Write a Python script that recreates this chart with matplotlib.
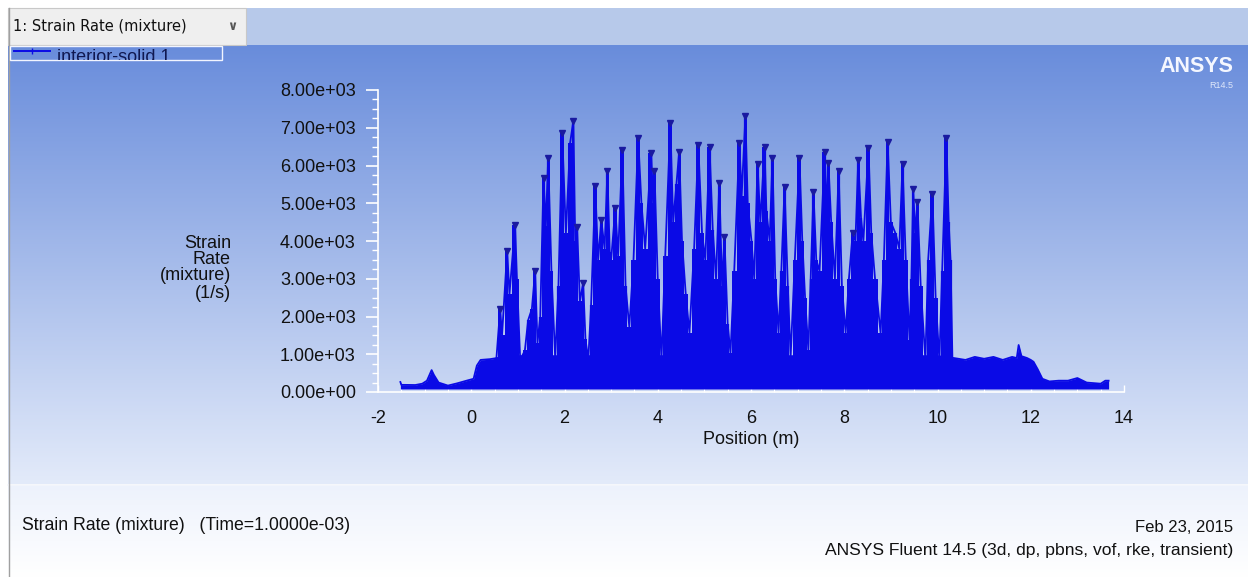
import numpy as np
import matplotlib
matplotlib.use("Agg")
import matplotlib.pyplot as plt
from matplotlib.patches import Rectangle
from matplotlib.ticker import MultipleLocator

# ---------------- data ----------------
# dense low-level band (upper envelope), position in m, strain rate in 1/s
band_pos = [-1.52, -1.50, -1.20, -1.05, -0.95, -0.85, -0.80, -0.70, -0.50, -0.30,
            -0.10, 0.05, 0.12, 0.20, 0.40, 0.55, 1.00, 2.00, 3.00, 4.00, 5.00,
            6.00, 7.00, 8.00, 9.00, 10.00, 10.35, 10.60, 10.80, 11.00, 11.20,
            11.40, 11.60, 11.70, 11.74, 11.80, 11.92, 12.00, 12.06, 12.15, 12.25,
            12.40, 12.60, 12.80, 13.00, 13.20, 13.50, 13.60, 13.67]
band_top = [265, 190, 185, 220, 300, 580, 450, 250, 170, 230,
            300, 350, 700, 850, 870, 900, 950, 950, 950, 950, 950,
            950, 950, 950, 950, 950, 900, 850, 930, 880, 930,
            850, 930, 900, 1245, 950, 900, 850, 800, 600, 350,
            280, 300, 300, 370, 250, 220, 300, 300]
band_floor = 80

# spikes of the main region (vertices of the trace)
spike_pos = [0.54, 0.62, 0.66, 0.77, 0.82, 0.94, 0.98, 1.05, 1.15, 1.22, 1.30, 1.37,
             1.42, 1.48, 1.55, 1.60, 1.65, 1.72, 1.80, 1.87, 1.95, 2.03, 2.12, 2.19,
             2.23, 2.27, 2.33, 2.40, 2.45, 2.51, 2.57, 2.66, 2.72, 2.79, 2.86, 2.92,
             2.97, 3.00, 3.09, 3.15, 3.24, 3.31, 3.39, 3.48, 3.58, 3.65, 3.73, 3.86,
             3.90, 3.93, 4.00, 4.08, 4.16, 4.27, 4.33, 4.40, 4.46, 4.52, 4.60, 4.68,
             4.78, 4.87, 4.95, 5.02, 5.11, 5.18, 5.25, 5.32, 5.38, 5.43, 5.50, 5.56,
             5.64, 5.75, 5.80, 5.88, 5.93, 6.01, 6.07, 6.14, 6.20, 6.29, 6.33, 6.40,
             6.46, 6.52, 6.59, 6.65, 6.72, 6.79, 6.85, 6.94, 7.04, 7.10, 7.16, 7.23,
             7.28, 7.34, 7.40, 7.47, 7.58, 7.62, 7.66, 7.72, 7.80, 7.88, 7.95, 8.03,
             8.10, 8.18, 8.24, 8.30, 8.36, 8.41, 8.52, 8.58, 8.66, 8.78, 8.85, 8.93,
             9.00, 9.10, 9.18, 9.25, 9.32, 9.40, 9.44, 9.48, 9.52, 9.57, 9.64, 9.74,
             9.80, 9.89, 9.96, 10.04, 10.10, 10.19, 10.24, 10.28, 10.32]
spike_val = [900, 2200, 1500, 3735, 2600, 4420, 3000, 850, 1100, 1900, 2200, 3200,
             1300, 2000, 5670, 4400, 6200, 3200, 900, 2800, 6860, 4200, 6600, 7180,
             4000, 4370, 2400, 2890, 1400, 850, 2300, 5460, 3500, 4550, 3800, 5850,
             3700, 3500, 4870, 3600, 6410, 2800, 1720, 3500, 6730, 5000, 3800, 6330,
             5000, 5850, 3000, 850, 3600, 7120, 4500, 5500, 6360, 4000, 2600, 1560,
             3800, 6540, 4200, 3500, 6490, 4300, 3000, 5540, 2800, 4110, 1800, 1030,
             3200, 6600, 5200, 7310, 5000, 4000, 3000, 6040, 4500, 6490, 4800, 4000,
             6200, 3000, 1560, 3200, 5430, 2800, 930, 3500, 6200, 4000, 2500, 1110,
             3000, 5300, 3500, 3200, 6360, 4800, 6070, 4500, 3000, 5850, 2800, 1560,
             3000, 4200, 4000, 6150, 4600, 4000, 6460, 4200, 3000, 1560, 3500, 6620,
             4500, 4200, 3800, 6040, 3500, 1380, 3000, 5380, 4200, 5030, 2800, 850,
             3500, 5250, 2500, 850, 3200, 6730, 4500, 3500, 850]

y_ticks = [0, 1000, 2000, 3000, 4000, 5000, 6000, 7000, 8000]
y_tick_labels = ["0.00e+00", "1.00e+03", "2.00e+03", "3.00e+03", "4.00e+03",
                 "5.00e+03", "6.00e+03", "7.00e+03", "8.00e+03"]
x_ticks = [-2, 0, 2, 4, 6, 8, 10, 12, 14]

# ---------------- figure ----------------
W, H = 1248, 577
fig = plt.figure(figsize=(W / 100, H / 100), dpi=100)
fig.patch.set_facecolor("white")

FONT = "Liberation Sans"
UI = "DejaVu Sans"

bg = fig.add_axes([0, 0, 1, 1])
bg.set_xlim(0, W)
bg.set_ylim(H, 0)
bg.axis("off")

# plot panel gradient
top_c = np.array([0.41, 0.55, 0.86])
bot_c = np.array([0.89, 0.92, 0.98])
t = np.linspace(0, 1, 256)[:, None]
grad = top_c[None, :] * (1 - t) + bot_c[None, :] * t
bg.imshow(grad[:, None, :], extent=[8, W, 484, 45], aspect="auto", zorder=0)

# top strip
bg.add_patch(Rectangle((8, 8), W - 8, 37, facecolor="#b7c9ea", edgecolor="none", zorder=1))
bg.add_patch(Rectangle((8, 8), 238, 37, facecolor="#efefef", edgecolor="#c8c8c8", lw=0.8, zorder=2))
bg.text(13, 26, "1: Strain Rate (mixture)", fontsize=10.5, family=UI, color="#111111",
        va="center", ha="left", zorder=3)
bg.text(232, 27, "\u2228", fontsize=9, family=UI, color="#555555", va="center",
        ha="center", zorder=3, fontweight="bold")

# bottom panel gradient
t2 = np.linspace(0, 1, 128)[:, None]
c1 = np.array([0.93, 0.95, 0.99])
c2 = np.array([1.0, 1.0, 1.0])
grad2 = c1[None, :] * (1 - t2) + c2[None, :] * t2
bg.imshow(grad2[:, None, :], extent=[8, W, H, 485], aspect="auto", zorder=0)
bg.plot([8, W], [484.5, 484.5], color="#f4f6fb", lw=1.2, zorder=1)
bg.plot([8.5, 8.5], [8, H], color="#a0a0a0", lw=1.0, zorder=4)

# legend
bg.add_patch(Rectangle((10, 46), 212, 14, facecolor="none", edgecolor="#f2f5ff", lw=1.0, zorder=5))
bg.plot([14, 50], [51, 51], color="#0a0ae6", lw=1.4, zorder=5)
bg.plot([32], [51], marker="|", color="#0a0ae6", ms=5, zorder=5)
clip = Rectangle((10, 45), 212, 15, transform=bg.transData)
leg_t = bg.text(57, 57, "interior-solid 1", fontsize=13, family=FONT, color="#101850",
                va="center", ha="left", zorder=5, clip_on=True)
leg_t.set_clip_path(clip)

# ANSYS logo
bg.text(1233, 67, "ANSYS", fontsize=15.5, family=FONT, fontweight="bold", color="#f4f7ff",
        ha="right", va="center", zorder=5)
bg.text(1233, 86, "R14.5", fontsize=6.5, family=FONT, color="#dfe7fa", ha="right",
        va="center", zorder=5)

# y-label
for txt, yy in zip(["Strain", "Rate", "(mixture)", "(1/s)"], [243, 259, 276, 293]):
    bg.text(231, yy, txt, fontsize=13, family=FONT, color="#111111", ha="right",
            va="center", zorder=5)

# bottom texts
bg.text(22, 525, "Strain Rate (mixture)   (Time=1.0000e-03)", fontsize=12.7, family=FONT,
        color="#111111", ha="left", va="center", zorder=5)
bg.text(1233, 527, "Feb 23, 2015", fontsize=12, family=FONT, color="#111111",
        ha="right", va="center", zorder=5)
bg.text(1233, 551, "ANSYS Fluent 14.5 (3d, dp, pbns, vof, rke, transient)", fontsize=12.6,
        family=FONT, color="#111111", ha="right", va="center", zorder=5)

# ---------------- main axes ----------------
x0, x1, y0, y1 = 378, 1124, 90, 392
ax = fig.add_axes([x0 / W, 1 - y1 / H, (x1 - x0) / W, (y1 - y0) / H])
ax.set_facecolor("none")
ax.set_xlim(-2, 14)
ax.set_ylim(0, 8000)

blue = "#0a0ae6"
ax.fill_between(band_pos, band_floor, band_top, color=blue, lw=0, zorder=2)
ax.fill_between(spike_pos, band_floor, spike_val, color=blue, lw=0, zorder=2, step="mid")
ax.plot(spike_pos, spike_val, color=blue, lw=1.3, zorder=3)
ax.vlines(spike_pos, band_floor, spike_val, color=blue, lw=1.6, zorder=3)
ax.plot(band_pos, band_top, color=blue, lw=1.3, zorder=3)

sv = np.array(spike_val)
sp = np.array(spike_pos)
is_peak = np.r_[False, (sv[1:-1] > sv[:-2]) & (sv[1:-1] > sv[2:]), False]
ax.plot(sp[is_peak], sv[is_peak], linestyle="none", marker="v", ms=4, color="#1a1aa0",
        zorder=4)

for s in ["top", "right"]:
    ax.spines[s].set_visible(False)
for s in ["left", "bottom"]:
    ax.spines[s].set_color("white")
    ax.spines[s].set_linewidth(1.2)

ax.set_yticks(y_ticks)
ax.set_yticklabels(y_tick_labels)
ax.yaxis.set_minor_locator(MultipleLocator(250))
ax.set_xticks(x_ticks)
ax.set_xticklabels([str(v) for v in x_ticks])
ax.xaxis.set_minor_locator(MultipleLocator(0.5))

ax.tick_params(axis="y", which="major", direction="out", length=9, width=1.2,
               color="white", pad=7, labelsize=13, labelcolor="#111111")
ax.tick_params(axis="y", which="minor", direction="out", length=4.5, width=1.0,
               color="white")
ax.tick_params(axis="x", which="major", direction="in", length=5, width=1.0,
               color="white", pad=13, labelsize=13, labelcolor="#111111")
ax.tick_params(axis="x", which="minor", direction="in", length=3, width=0.8,
               color="white")
for lab in ax.get_xticklabels() + ax.get_yticklabels():
    lab.set_family(FONT)

ax.set_xlabel("Position (m)", fontsize=13, family=FONT, color="#111111", labelpad=3)

fig.savefig("out.png", dpi=100)
